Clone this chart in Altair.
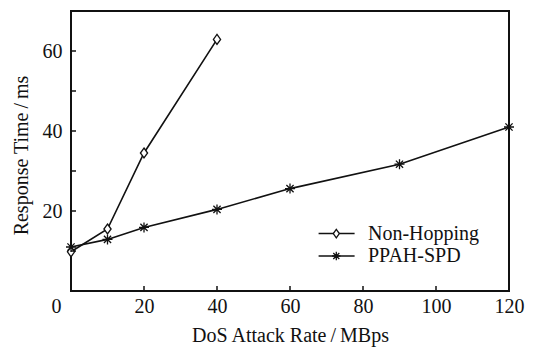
import altair as alt
import pandas as pd

# ---- data ----
series_names = ["Non-Hopping", "PPAH-SPD"]
x_nonhop = [0, 10, 20, 40]
y_nonhop = [9.8, 15.5, 34.5, 62.9]
x_ppah = [0, 10, 20, 40, 60, 90, 120]
y_ppah = [11.0, 12.9, 15.9, 20.4, 25.6, 31.7, 41.0]
x_tick_labels = [0, 20, 40, 60, 80, 100, 120]
x_inner_ticks = [20, 40, 60, 80, 100]
y_tick_labels = [20, 40, 60]
y_inner_ticks = [10, 20, 30, 40, 50, 60]

FONT = "Liberation Serif"
FS = 20
W, H = 438, 280
DIAMOND = "M0,-1L0.72,0L0,1L-0.72,0Z"
STAR = "M0,-1V1M-1,0H1M-0.72,-0.72L0.72,0.72M-0.72,0.72L0.72,-0.72"
INK = "#111111"

df = pd.concat([
    pd.DataFrame({"rate": x_nonhop, "time": y_nonhop, "series": series_names[0]}),
    pd.DataFrame({"rate": x_ppah, "time": y_ppah, "series": series_names[1]}),
])

xs = alt.Scale(domain=[0, 120], nice=False, zero=False)
ys = alt.Scale(domain=[0, 70], nice=False, zero=False)

x_axis = alt.Axis(
    values=x_tick_labels, ticks=False, domain=False, grid=False,
    labelFont=FONT, labelFontSize=FS, labelColor=INK, labelPadding=5,
    labelOffset={"condition": {"test": "datum.value === 0", "value": -15}, "value": 0},
    labelFlush=False,
    title="DoS Attack Rate\u2009/\u2009MBps", titleFont=FONT, titleFontSize=FS,
    titleFontWeight="normal", titleColor=INK, titlePadding=9,
)
y_axis = alt.Axis(
    values=y_tick_labels, ticks=False, domain=False, grid=False,
    labelFont=FONT, labelFontSize=FS, labelColor=INK, labelPadding=9,
    title="Response Time\u2009/\u2009ms", titleFont=FONT, titleFontSize=FS,
    titleFontWeight="normal", titleColor=INK, titlePadding=11, titleY=144,
)

base = alt.Chart(df)

lines = base.mark_line(color=INK, strokeWidth=1.6).encode(
    x=alt.X("rate:Q", scale=xs, axis=x_axis),
    y=alt.Y("time:Q", scale=ys, axis=y_axis),
    detail="series:N",
)
points = base.mark_point(fill="white", stroke=INK, strokeWidth=1.3, size=100, opacity=1).encode(
    x=alt.X("rate:Q", scale=xs),
    y=alt.Y("time:Q", scale=ys),
    shape=alt.Shape("series:N", scale=alt.Scale(domain=series_names, range=[DIAMOND, STAR]), legend=None),
)

xt = alt.Chart(pd.DataFrame({"v": x_inner_ticks})).mark_rule(color=INK, strokeWidth=1.5).encode(
    x=alt.X("v:Q", scale=xs), y=alt.value(H), y2=alt.value(H - 5)
)
yt = alt.Chart(pd.DataFrame({"v": y_inner_ticks})).mark_rule(color=INK, strokeWidth=1.5).encode(
    y=alt.Y("v:Q", scale=ys), x=alt.value(0), x2=alt.value(5)
)

legend_layers = []
for i, (name, sym) in enumerate(zip(series_names, [DIAMOND, STAR])):
    yy = 222.6 + 22.4 * i
    d = alt.Data(values=[{"name": name}])
    legend_layers.append(alt.Chart(d).mark_rule(color=INK, strokeWidth=1.5).encode(
        x=alt.value(247.6), x2=alt.value(283.6), y=alt.value(yy)))
    legend_layers.append(alt.Chart(d).mark_point(fill="white", stroke=INK, strokeWidth=1.3,
                                                 size=70, opacity=1, shape=sym).encode(
        x=alt.value(265.3), y=alt.value(yy)))
    legend_layers.append(alt.Chart(d).mark_text(font=FONT, fontSize=FS, color=INK, align="left",
                                                baseline="middle").encode(
        x=alt.value(297), y=alt.value(yy), text="name:N"))

chart = alt.layer(lines, points, xt, yt, *legend_layers).properties(
    width=W, height=H,
    autosize=alt.AutoSizeParams(type="none"),
    padding={"left": 71, "top": 11, "right": 26, "bottom": 56},
    background="white",
).configure_view(stroke=INK, strokeWidth=2)

chart.save("out.html", embed_options={"renderer": "svg", "actions": False})
